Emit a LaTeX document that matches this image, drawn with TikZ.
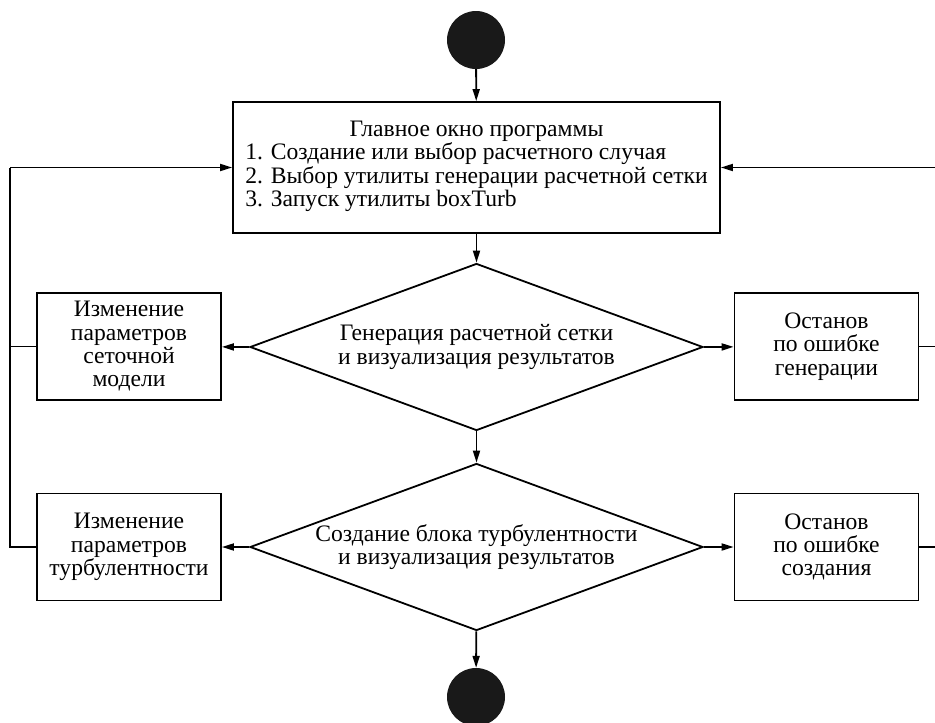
\documentclass[tikz,border=0pt]{standalone}
\usepackage{fontspec}
\setmainfont{Liberation Serif}
\usetikzlibrary{shapes.geometric,arrows.meta}
\begin{document}
\begin{tikzpicture}[x=1pt,y=-1pt,
  every node/.style={font=\fontsize{23.6}{23.3}\selectfont, align=center, inner sep=0pt},
  box/.style={draw, line width=1.8pt, minimum width=184pt, minimum height=107pt},
  dia/.style={draw, line width=1.8pt, diamond, aspect=2.7, minimum width=453pt, minimum height=167pt},
  term/.style={circle, fill=black!90, minimum size=58pt},
  arr/.style={line width=1.8pt, -{Triangle[length=12pt,width=7pt]}},
  ln/.style={line width=1.8pt}]
\useasboundingbox (0,0) rectangle (935,723);
\node[term] (start) at (476,40) {};
\node[draw, line width=1.8pt, minimum width=487pt, minimum height=131pt] (main) at (476.5,167.5)
 {Главное окно программы\\
  \begin{tabular}{@{}l@{}}1. Создание или выбор расчетного случая\\
  2. Выбор утилиты генерации расчетной сетки\\
  3. Запуск утилиты boxTurb\end{tabular}};
\node[dia] (d1) at (476.5,347) {Генерация расчетной сетки\\и визуализация результатов};
\node[dia] (d2) at (476.5,547) {Создание блока турбулентности\\и визуализация результатов};
\node[box] (l1) at (129,346.5) {Изменение\\параметров\\сеточной\\модели};
\node[box] (r1) at (826.5,346.5) {Останов\\по ошибке\\генерации};
\node[box] (l2) at (129,547) {Изменение\\параметров\\турбулентности};
\node[box] (r2) at (826.5,547) {Останов\\по ошибке\\создания};
\node[term] (end) at (476,697) {};
\coordinate (lt) at (10,167.5);
\coordinate (lb) at (10,547);
\coordinate (rt) at (936,167.5);
\coordinate (rb) at (936,547);
\draw[arr] (start) -- (main);
\draw[arr] (main) -- (d1);
\draw[arr] (d1) -- (d2);
\draw[arr] (d2) -- (end);
\draw[arr] (d1.west) -- (l1);
\draw[arr] (d1.east) -- (r1);
\draw[arr] (d2.west) -- (l2);
\draw[arr] (d2.east) -- (r2);
\draw[ln] (l2.west) -- (lb) -- (lt);
\draw[ln] (l1.west) -- (l1.west -| lt);
\draw[arr] (lt) -- (main.west |- lt);
\draw[ln] (r2.east) -- (rb) -- (rt);
\draw[ln] (r1.east) -- (r1.east -| rt);
\draw[arr] (rt) -- (main.east |- rt);
\end{tikzpicture}
\end{document}
